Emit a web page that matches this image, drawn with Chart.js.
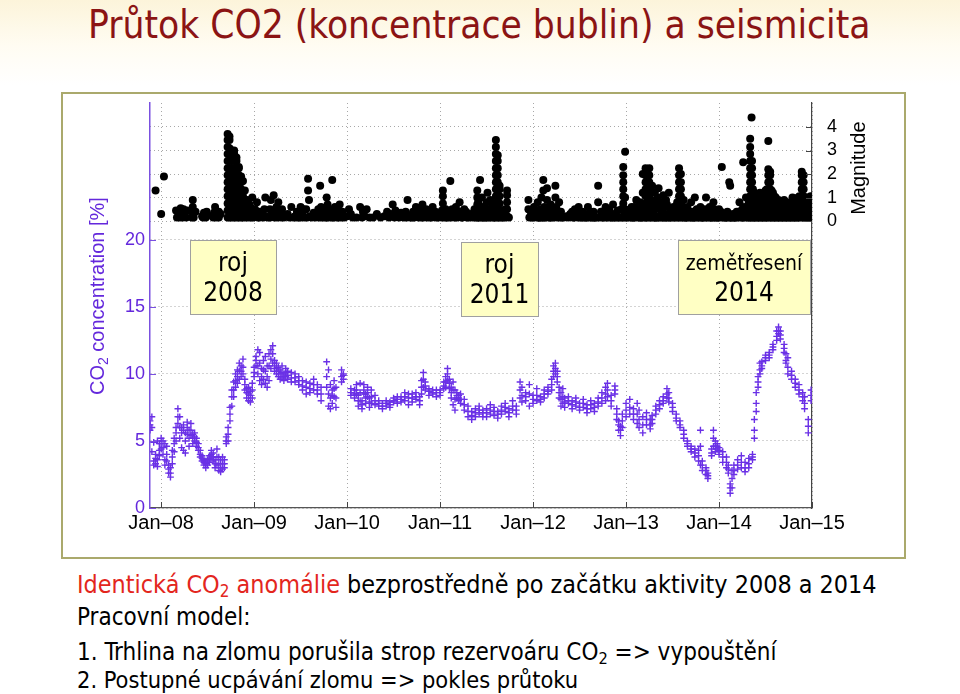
<!DOCTYPE html>
<html>
<head>
<meta charset="utf-8">
<script src="https://cdn.jsdelivr.net/npm/chart.js@4.4.0/dist/chart.umd.min.js"></script>
<style>
  body { margin: 0; width: 960px; height: 694px; overflow: hidden; position: relative;
         background: linear-gradient(#fcf4da 0px, #fffcf2 45px, #ffffff 85px);
         font-family: "DejaVu Sans Condensed", "DejaVu Sans", sans-serif; }
  #title { position: absolute; left: 88px; top: 3px; font-size: 38.5px; line-height: 44px; color: #8b1414; white-space: nowrap; }
  #panel { position: absolute; left: 61px; top: 92px; width: 841px; height: 463px; border: 2px solid #aaa96c; background: #fff; }
  .line { position: absolute; left: 77px; font-size: 24px; line-height: 28px; white-space: nowrap; color: #000; }
  .line sub { font-size: 0.68em; line-height: 0; vertical-align: -0.25em; }
  .red { color: #e3261d; }
</style>
</head>
<body>
<div id="title">Průtok CO2 (koncentrace bublin) a seismicita</div>
<div id="panel"><canvas id="chart" width="841" height="463"></canvas></div>
<div class="line" style="top:571px;font-size:24.9px"><span class="red">Identická CO<sub>2</sub> anomálie</span> bezprostředně po začátku aktivity 2008 a 2014</div>
<div class="line" style="top:603px">Pracovní model:</div>
<div class="line" style="top:638px">1. Trhlina na zlomu porušila strop rezervoáru CO<sub>2</sub> =&gt; vypouštění</div>
<div class="line" style="top:666px;font-size:23.4px">2. Postupné ucpávání zlomu =&gt; pokles průtoku</div>
<script>
// x ticks: January of each year
const yearTicks = [2008, 2009, 2010, 2011, 2012, 2013, 2014, 2015];
const co2Ticks = [0, 5, 10, 15, 20];
const magTicks = [0, 1, 2, 3, 4];

// CO2 concentration [%]: [decimal year, readings scattered around that date...]
const co2Samples = [
  [2007.88, 6.5, 5.8, 6.2], [2007.90, 6.8, 6.0, 4.2], [2007.92, 3.5, 3.2, 4.9], [2007.94, 3.3, 4.0, 3.7], [2007.96, 3.6, 3.1, 5.0],
  [2007.98, 4.8, 3.9, 4.3], [2008.00, 5.2, 4.4, 4.8], [2008.02, 5.0, 4.0, 4.5], [2008.04, 4.8, 3.6, 3.2], [2008.06, 3.5, 4.6, 4.0],
  [2008.08, 2.6, 3.2, 2.9], [2008.10, 2.3, 3.0, 2.6], [2008.12, 3.3, 4.3, 3.8], [2008.14, 4.8, 4.2, 5.2], [2008.16, 5.6, 5.0, 6.0],
  [2008.18, 7.4, 6.3, 6.8], [2008.20, 6.8, 5.2, 6.0], [2008.22, 6.0, 5.6, 4.5], [2008.24, 6.2, 4.3, 5.8], [2008.26, 5.0, 4.1, 5.6],
  [2008.28, 6.4, 5.5, 6.0], [2008.30, 5.8, 4.6, 5.2], [2008.32, 6.3, 5.4, 5.8], [2008.34, 5.5, 4.8, 5.2], [2008.36, 5.6, 5.0, 5.3],
  [2008.38, 5.2, 4.6, 4.9], [2008.40, 4.8, 4.3, 4.5], [2008.42, 4.3, 3.8, 4.0], [2008.44, 3.9, 3.5, 3.7], [2008.46, 3.6, 3.2, 3.4],
  [2008.48, 3.3, 3.0, 3.5], [2008.50, 3.2, 3.6, 3.4], [2008.52, 3.4, 3.9, 3.7], [2008.54, 3.8, 4.3, 4.0], [2008.56, 4.1, 3.5, 3.8],
  [2008.58, 3.6, 3.0, 3.3], [2008.60, 3.2, 4.4, 3.8], [2008.62, 3.8, 2.8, 3.3], [2008.64, 3.0, 2.7, 3.6], [2008.66, 3.3, 3.8, 2.9],
  [2008.68, 3.0, 3.3, 3.6], [2008.70, 4.8, 5.3, 5.0], [2008.72, 5.0, 6.0, 5.5], [2008.74, 6.5, 7.5, 7.0], [2008.76, 7.6, 8.3, 8.8],
  [2008.78, 8.3, 9.4, 8.8], [2008.80, 9.0, 9.5, 10.0], [2008.82, 9.8, 10.3, 9.3], [2008.84, 10.2, 9.6, 10.8], [2008.86, 10.6, 9.8, 10.2],
  [2008.88, 11.1, 10.0, 10.5], [2008.90, 9.6, 8.8, 9.2], [2008.92, 8.6, 8.2, 8.9], [2008.94, 9.0, 8.0, 8.5], [2008.96, 8.4, 7.9, 8.7],
  [2008.98, 8.8, 9.3, 8.2], [2009.00, 9.8, 10.5, 10.1], [2009.02, 11.3, 10.6, 11.0], [2009.04, 11.8, 10.0, 10.6], [2009.06, 11.6, 9.5, 10.8],
  [2009.08, 10.4, 9.2, 9.8], [2009.10, 11.0, 9.6, 10.3], [2009.12, 11.3, 9.3, 10.2], [2009.14, 10.6, 9.0, 9.8], [2009.16, 11.5, 9.5, 10.6],
  [2009.18, 11.8, 10.4, 11.1], [2009.20, 12.1, 10.8, 11.5], [2009.22, 11.0, 10.2, 10.6], [2009.24, 10.8, 10.0, 10.4], [2009.26, 10.5, 9.8, 10.2],
  [2009.28, 10.3, 9.6, 10.0], [2009.30, 10.6, 9.7, 10.1], [2009.32, 10.0, 9.5, 9.8], [2009.34, 9.8, 10.4, 10.1], [2009.36, 9.6, 10.2, 9.9],
  [2009.40, 9.7, 10.1, 9.4], [2009.44, 9.4, 10.0, 9.7], [2009.48, 9.2, 9.8, 9.5], [2009.52, 9.5, 8.8, 9.1], [2009.56, 9.0, 8.5, 9.4],
  [2009.60, 9.3, 8.6, 8.9], [2009.64, 8.8, 9.6, 9.2], [2009.68, 8.5, 9.2, 8.8], [2009.72, 9.0, 8.0, 8.5], [2009.78, 10.9, 9.0, 9.8],
  [2009.80, 10.3, 7.6, 8.5], [2009.82, 9.2, 7.4, 8.2], [2009.84, 8.8, 7.8, 8.4], [2009.86, 9.5, 8.3, 8.9], [2009.88, 9.0, 7.5, 8.2],
  [2009.94, 10.3, 9.8, 9.4], [2009.96, 9.9, 10.0, 9.6], [2010.04, 8.4, 8.6, 8.9], [2010.08, 8.8, 8.2, 8.5], [2010.10, 9.2, 8.5, 8.8],
  [2010.12, 8.4, 7.6, 8.0], [2010.14, 9.3, 8.0, 8.6], [2010.16, 8.0, 7.4, 7.7], [2010.18, 9.2, 8.5, 8.8], [2010.20, 8.5, 7.8, 8.2],
  [2010.22, 9.0, 8.3, 8.6], [2010.24, 8.2, 7.5, 7.9], [2010.26, 8.8, 7.8, 8.3], [2010.30, 8.4, 7.7, 8.0], [2010.34, 8.0, 7.6, 7.8],
  [2010.38, 7.8, 7.4, 7.6], [2010.42, 7.6, 8.0, 7.8], [2010.46, 7.5, 7.9, 7.7], [2010.50, 7.9, 8.2, 8.0], [2010.54, 8.1, 7.8, 8.3],
  [2010.58, 8.3, 7.9, 8.1], [2010.62, 8.0, 8.6, 8.3], [2010.66, 8.2, 7.7, 8.5], [2010.70, 8.5, 7.9, 8.2], [2010.74, 8.1, 8.6, 8.3],
  [2010.78, 8.3, 7.7, 8.0], [2010.80, 9.5, 8.5, 9.0], [2010.82, 10.1, 9.0, 9.6], [2010.84, 9.4, 8.8, 9.1], [2010.88, 8.7, 8.4, 8.9],
  [2010.92, 8.5, 8.8, 8.6], [2010.96, 8.6, 8.3, 8.8], [2011.00, 8.8, 8.4, 8.6], [2011.04, 9.4, 8.9, 9.1], [2011.06, 9.8, 9.0, 9.4],
  [2011.08, 10.4, 9.5, 10.0], [2011.10, 9.6, 8.9, 9.3], [2011.12, 9.0, 8.2, 8.6], [2011.14, 9.4, 7.7, 8.8], [2011.16, 8.8, 7.3, 8.1],
  [2011.18, 8.2, 8.6, 8.4], [2011.20, 8.4, 8.0, 8.2], [2011.22, 8.5, 8.1, 7.8], [2011.26, 7.3, 8.1, 7.7], [2011.30, 6.8, 7.6, 7.2],
  [2011.34, 7.2, 6.6, 6.9], [2011.38, 7.4, 6.8, 7.1], [2011.42, 7.0, 7.6, 7.3], [2011.46, 7.3, 6.8, 7.1], [2011.50, 7.4, 6.8, 7.1],
  [2011.54, 7.0, 7.7, 7.3], [2011.58, 7.5, 6.9, 7.2], [2011.62, 7.2, 6.7, 7.0], [2011.66, 7.6, 7.0, 7.3], [2011.70, 7.8, 7.2, 7.5],
  [2011.74, 7.4, 6.8, 7.1], [2011.78, 8.0, 7.3, 7.6], [2011.82, 7.6, 7.0, 7.3], [2011.86, 9.4, 8.2, 8.8], [2011.88, 9.0, 7.9, 8.4],
  [2011.92, 8.6, 8.0, 8.3], [2011.96, 9.2, 7.6, 8.5], [2012.00, 8.4, 7.8, 8.1], [2012.04, 8.9, 8.0, 8.4], [2012.08, 8.3, 7.9, 8.1],
  [2012.12, 8.8, 8.2, 8.5], [2012.16, 8.5, 9.0, 8.7], [2012.20, 9.6, 8.8, 9.2], [2012.22, 10.6, 9.8, 10.2], [2012.24, 10.8, 10.0, 10.4],
  [2012.26, 10.2, 9.4, 9.8], [2012.28, 9.0, 8.2, 8.6], [2012.30, 8.6, 7.6, 8.1], [2012.32, 8.9, 7.8, 8.3], [2012.34, 8.2, 7.5, 7.9],
  [2012.38, 8.3, 7.8, 8.0], [2012.42, 8.0, 7.4, 7.7], [2012.46, 8.2, 7.6, 7.9], [2012.50, 7.8, 7.3, 7.5], [2012.54, 8.1, 7.5, 7.8],
  [2012.58, 7.7, 7.1, 7.4], [2012.62, 8.0, 7.4, 7.7], [2012.66, 7.8, 7.2, 7.5], [2012.70, 8.2, 7.6, 7.9], [2012.74, 8.6, 7.8, 8.2],
  [2012.78, 9.0, 8.0, 8.5], [2012.80, 9.3, 8.3, 8.8], [2012.84, 8.4, 7.6, 8.0], [2012.88, 9.1, 8.5, 8.8], [2012.90, 7.4, 6.6, 7.0],
  [2012.92, 6.5, 5.8, 6.2], [2012.94, 6.1, 5.4, 5.8], [2012.96, 7.0, 6.0, 6.5], [2013.00, 7.8, 6.8, 7.3], [2013.04, 8.1, 7.0, 7.5],
  [2013.08, 7.4, 6.6, 7.0], [2013.12, 7.8, 6.3, 7.0], [2013.14, 7.3, 6.0, 6.6], [2013.18, 6.8, 5.6, 6.2], [2013.22, 7.1, 6.2, 6.6],
  [2013.26, 6.6, 5.9, 6.2], [2013.28, 6.9, 6.3, 6.6], [2013.32, 7.6, 7.0, 7.3], [2013.36, 8.0, 7.4, 7.7], [2013.40, 8.3, 7.8, 8.0],
  [2013.44, 8.9, 8.2, 8.5], [2013.46, 8.6, 7.9, 8.2], [2013.50, 7.8, 7.2, 7.5], [2013.54, 7.0, 6.5, 6.7], [2013.58, 6.5, 6.0, 6.2],
  [2013.62, 5.8, 5.2, 5.5], [2013.66, 5.0, 4.6, 4.8], [2013.70, 4.6, 4.2, 4.4], [2013.74, 4.4, 3.8, 4.1], [2013.78, 4.3, 3.5, 3.9],
  [2013.80, 5.8, 3.2, 4.6], [2013.82, 3.5, 2.8, 3.2], [2013.86, 3.0, 2.5, 2.8], [2013.88, 2.6, 2.2, 2.4], [2013.92, 4.4, 3.9, 4.1],
  [2013.94, 5.8, 4.6, 5.2], [2013.96, 5.0, 4.2, 4.6], [2013.98, 4.8, 4.4, 4.6], [2014.00, 4.5, 4.0, 4.3], [2014.04, 4.2, 3.4, 3.8],
  [2014.08, 3.8, 3.0, 3.4], [2014.10, 3.2, 2.6, 2.9], [2014.12, 1.8, 1.1, 1.5], [2014.14, 2.8, 1.5, 2.2], [2014.16, 3.2, 2.5, 2.8],
  [2014.20, 3.6, 2.9, 3.2], [2014.24, 3.0, 3.9, 3.4], [2014.28, 3.4, 2.7, 3.0], [2014.32, 3.7, 3.0, 3.3], [2014.36, 4.0, 3.6, 3.8],
  [2014.38, 5.8, 6.6, 5.2], [2014.40, 7.8, 8.6, 7.2], [2014.42, 9.4, 9.8, 9.0], [2014.44, 10.3, 10.8, 10.0], [2014.46, 10.9, 10.4, 10.6],
  [2014.50, 11.4, 11.0, 11.2], [2014.54, 11.6, 11.2, 11.4], [2014.58, 11.8, 12.2, 12.0], [2014.62, 12.8, 13.2, 12.5], [2014.64, 13.5, 13.0, 13.2],
  [2014.66, 13.2, 12.6, 12.9], [2014.70, 12.2, 11.6, 11.9], [2014.72, 11.0, 11.5, 10.8], [2014.74, 10.5, 11.2, 10.0], [2014.78, 10.2, 9.6, 9.9],
  [2014.82, 9.6, 9.0, 9.3], [2014.86, 9.2, 8.5, 8.8], [2014.90, 8.6, 8.0, 8.3], [2014.92, 7.8, 8.3, 7.4], [2014.96, 6.6, 5.6, 6.1],
  [2014.99, 8.8, 8.0, 8.4]
];

// larger earthquakes and swarm columns: [decimal year, magnitudes recorded around that date...]
const quakeDays = [
  [2007.94, 1.3], [2008.00, 0.3], [2008.03, 1.9],
  [2008.16, 0.45], [2008.19, 0.3], [2008.21, 0.55], [2008.23, 0.15], [2008.25, 0.35], [2008.27, 0.15], [2008.28, 0.45],
  [2008.34, 0.9, 0.6, 0.35], [2008.35, 0.15], [2008.44, 0.2], [2008.46, 0.35], [2008.48, 0.15], [2008.50, 0.25],
  [2008.56, 0.15], [2008.58, 0.6, 0.4], [2008.60, 0.2],
  [2008.715, 0.15, 0.45, 0.75, 1.05, 1.35, 1.65, 1.95, 2.25, 2.55, 2.85, 3.15, 3.45, 3.7],
  [2008.735, 0.15, 0.45, 0.75, 1.05, 1.35, 1.65, 1.95, 2.25, 2.55, 2.85, 3.1, 3.45, 3.6],
  [2008.76, 0.15, 0.45, 0.75, 1.05, 1.35, 1.65, 1.95, 2.25, 2.55, 2.85, 3.0],
  [2008.785, 0.15, 0.45, 0.75, 1.05, 1.35, 1.65, 1.95, 2.25, 2.55, 2.85, 3.0],
  [2008.81, 0.15, 0.45, 0.75, 1.05, 1.35, 1.65, 1.95, 2.25, 2.55, 2.7],
  [2008.835, 0.15, 0.45, 0.75, 1.05, 1.35, 1.65, 1.95, 2.25, 2.3],
  [2008.86, 0.15, 0.45, 0.75, 1.05, 1.35, 1.65, 1.9],
  [2008.88, 0.15, 0.45, 0.75, 1.05, 1.7], [2008.90, 1.3, 0.4],
  [2008.93, 0.9, 0.5], [2008.94, 0.15], [2008.95, 0.7], [2008.96, 0.3], [2008.98, 1.0], [2008.99, 0.15],
  [2009.01, 0.5], [2009.02, 0.2], [2009.03, 0.8], [2009.04, 0.15], [2009.11, 0.5], [2009.12, 1.0], [2009.13, 0.2],
  [2009.15, 0.15], [2009.18, 0.9], [2009.20, 0.4], [2009.21, 1.1], [2009.22, 0.15], [2009.24, 0.6], [2009.26, 0.8],
  [2009.27, 0.25], [2009.29, 0.15], [2009.30, 0.5], [2009.36, 0.3], [2009.40, 0.6], [2009.42, 0.15],
  [2009.46, 0.4], [2009.48, 0.15], [2009.50, 0.6], [2009.52, 0.3], [2009.54, 0.15], [2009.56, 0.5],
  [2009.58, 1.8, 1.3], [2009.59, 0.9], [2009.60, 0.2], [2009.68, 0.3], [2009.70, 0.15], [2009.71, 1.5],
  [2009.72, 0.6], [2009.74, 0.2], [2009.76, 0.15], [2009.77, 0.45], [2009.78, 1.0], [2009.79, 0.7], [2009.80, 0.15],
  [2009.82, 0.5], [2009.83, 0.3], [2009.84, 1.75], [2009.85, 0.15], [2009.87, 0.6], [2009.88, 0.25], [2009.90, 0.45],
  [2009.91, 0.15], [2009.92, 0.7], [2009.93, 0.3], [2009.94, 0.15], [2010.02, 0.5], [2010.04, 0.3],
  [2010.14, 0.6], [2010.17, 0.4], [2010.21, 0.5], [2010.28, 0.15], [2010.43, 0.4], [2010.49, 0.7], [2010.54, 0.2],
  [2010.56, 0.15], [2010.58, 0.35], [2010.61, 0.15], [2010.63, 0.4], [2010.65, 0.9], [2010.66, 0.25], [2010.68, 0.15],
  [2010.71, 0.4], [2010.72, 0.15], [2010.74, 0.6], [2010.76, 0.2], [2010.78, 0.45], [2010.80, 0.15], [2010.81, 0.7],
  [2010.83, 0.3], [2010.85, 0.5], [2010.86, 0.15], [2010.88, 0.2], [2010.90, 0.4], [2010.92, 0.6], [2010.94, 0.2],
  [2010.96, 0.15], [2011.02, 0.15, 0.45], [2011.03, 0.75, 1.05, 1.3], [2011.04, 0.3], [2011.06, 0.5], [2011.07, 0.15],
  [2011.11, 1.7], [2011.14, 0.3], [2011.16, 0.15], [2011.17, 0.6], [2011.19, 0.2], [2011.21, 0.8], [2011.22, 0.4],
  [2011.24, 0.15], [2011.26, 0.5], [2011.27, 0.2], [2011.29, 0.15], [2011.40, 1.3, 1.0, 0.7, 0.4, 0.15],
  [2011.42, 0.5], [2011.43, 1.75], [2011.44, 0.2], [2011.45, 1.0], [2011.46, 0.6], [2011.47, 0.15], [2011.49, 0.3],
  [2011.50, 0.8], [2011.51, 1.2], [2011.52, 0.15], [2011.53, 0.5], [2011.54, 0.9], [2011.55, 0.2], [2011.56, 0.6],
  [2011.60, 0.15, 0.45, 0.75, 1.05, 1.35, 1.65, 1.95, 2.25, 2.55, 2.85, 3.15, 3.45],
  [2011.62, 0.15, 0.45, 0.75, 1.05, 1.35, 1.65, 1.95, 2.25, 2.55, 2.8],
  [2011.64, 0.15, 0.45, 0.75, 1.05, 1.35, 1.5], [2011.72, 0.2, 0.5, 0.8, 1.1, 1.3],
  [2011.95, 0.9, 0.5], [2011.96, 0.15], [2011.98, 0.3], [2012.00, 0.15], [2012.01, 0.6], [2012.03, 0.2], [2012.05, 0.8],
  [2012.06, 0.4], [2012.07, 0.15], [2012.09, 1.0], [2012.10, 0.3], [2012.11, 1.75, 1.3], [2012.12, 0.6], [2012.13, 0.15],
  [2012.15, 1.4, 0.9], [2012.16, 0.4], [2012.18, 0.15], [2012.19, 0.7], [2012.21, 0.3], [2012.22, 0.15],
  [2012.24, 1.5, 1.0], [2012.25, 0.6], [2012.27, 0.2], [2012.28, 0.8], [2012.30, 0.4], [2012.31, 0.15],
  [2012.40, 0.3], [2012.43, 0.15], [2012.45, 0.5], [2012.47, 0.2], [2012.49, 0.6], [2012.51, 0.15], [2012.53, 0.4],
  [2012.55, 0.15], [2012.57, 0.3], [2012.59, 0.6], [2012.61, 0.2], [2012.63, 0.15], [2012.65, 0.4], [2012.67, 0.15],
  [2012.70, 1.5, 0.8], [2012.74, 0.4], [2012.76, 0.15], [2012.78, 0.6], [2012.80, 0.2], [2012.82, 0.5], [2012.84, 0.15],
  [2012.86, 0.7], [2012.88, 0.3], [2012.89, 0.15],
  [2012.97, 0.15, 0.45, 0.75, 1.05, 1.35, 1.65, 1.95, 2.3], [2012.99, 2.95, 1.0, 0.5, 0.15],
  [2013.05, 0.3], [2013.07, 0.15], [2013.09, 0.6], [2013.11, 0.9], [2013.12, 0.2], [2013.14, 0.5], [2013.16, 0.15],
  [2013.18, 2.0, 1.2], [2013.19, 0.7],
  [2013.21, 0.15, 0.45, 0.75, 1.05, 1.35, 1.65, 1.95, 2.25], [2013.25, 0.15, 0.45, 0.75, 1.05, 1.35, 1.65, 1.95, 2.25],
  [2013.28, 1.5], [2013.29, 0.8], [2013.30, 0.3], [2013.31, 1.2], [2013.32, 0.15], [2013.33, 0.6], [2013.34, 1.0],
  [2013.35, 1.4], [2013.36, 0.2], [2013.37, 0.8], [2013.38, 0.4], [2013.40, 1.1], [2013.41, 0.15], [2013.42, 0.6],
  [2013.43, 0.9], [2013.44, 0.3], [2013.46, 1.2], [2013.47, 0.15], [2013.48, 0.5],
  [2013.57, 0.15, 0.45, 0.75, 1.05, 1.35, 1.65, 1.95, 2.25], [2013.59, 0.15, 0.45, 0.75, 1.05, 1.35, 1.65, 2.0],
  [2013.62, 0.9, 0.4], [2013.64, 0.15], [2013.66, 0.6], [2013.68, 0.2], [2013.70, 0.8], [2013.72, 0.15], [2013.74, 1.0],
  [2013.76, 0.5], [2013.78, 0.3], [2013.80, 0.6], [2013.82, 0.15], [2013.84, 0.4], [2013.86, 1.0], [2013.88, 0.2],
  [2013.90, 0.6], [2013.92, 0.15], [2013.94, 0.8], [2013.96, 0.3], [2013.98, 0.15], [2014.00, 0.5],
  [2014.03, 2.3], [2014.05, 0.2], [2014.07, 0.15], [2014.09, 0.4], [2014.11, 1.65], [2014.12, 1.5], [2014.13, 0.15],
  [2014.15, 0.3], [2014.17, 0.15], [2014.19, 0.4], [2014.22, 0.8], [2014.24, 0.3], [2014.26, 2.5, 0.15], [2014.27, 0.6],
  [2014.29, 1.0], [2014.30, 0.2],
  [2014.335, 0.15, 0.45, 0.75, 1.05, 1.35, 1.65, 1.95, 2.25, 2.55, 2.85, 3.15, 3.5], [2014.35, 4.4],
  [2014.355, 0.15, 0.45, 0.75, 1.05, 1.35, 1.65, 1.95, 2.25, 2.55],
  [2014.38, 0.15, 0.45, 0.75, 1.05, 1.2], [2014.41, 0.15, 0.45, 0.75, 1.05], [2014.44, 0.15, 0.45, 0.75, 1.2],
  [2014.47, 0.15, 0.45, 0.75, 0.95], [2014.50, 0.15, 0.45, 0.75, 1.05, 1.3],
  [2014.53, 0.15, 0.45, 0.75, 1.05, 1.35, 1.65, 1.95, 2.2, 3.4], [2014.55, 0.15, 0.45, 0.75, 1.05, 1.35, 1.65, 1.95, 2.1],
  [2014.58, 0.15, 0.45, 0.75, 1.05, 1.2], [2014.61, 0.15, 0.45, 0.75, 1.0], [2014.64, 0.15, 0.45, 0.75, 0.9],
  [2014.67, 0.15, 0.45, 0.8], [2014.70, 0.15, 0.45, 0.75, 0.9], [2014.73, 0.15, 0.45, 0.8], [2014.76, 0.15, 0.45, 0.6],
  [2014.79, 0.15, 0.45, 0.8, 1.0], [2014.82, 0.15, 0.45, 0.6], [2014.85, 0.15, 0.45, 0.8, 1.0],
  [2014.89, 0.15, 0.45, 0.75, 1.05, 1.35, 1.65, 1.95, 2.1], [2014.91, 0.15, 0.45, 0.75, 1.05, 1.35, 1.65, 1.95],
  [2014.94, 0.15, 0.45, 0.6], [2014.97, 0.15, 0.45, 0.8]
];

// many small events filling the band near magnitude 0-1
const quakeSmall = [
  [2008.17, 0.15], [2008.20, 0.15], [2008.24, 0.5], [2008.33, 0.15], [2008.37, 0.4], [2008.45, 0.15], [2008.49, 0.4],
  [2008.57, 0.35], [2008.59, 0.15], [2008.62, 0.15, 0.4], [2008.64, 0.3],
  [2008.91, 0.15, 0.5], [2008.97, 0.15, 0.55], [2009.00, 0.3], [2009.06, 0.15, 0.4], [2009.08, 0.2], [2009.10, 0.15],
  [2009.17, 0.15, 0.5], [2009.19, 0.2], [2009.23, 0.3], [2009.25, 0.15], [2009.28, 0.4], [2009.32, 0.15], [2009.34, 0.2],
  [2009.38, 0.15], [2009.44, 0.2], [2009.45, 0.15], [2009.50, 0.15], [2009.53, 0.5], [2009.57, 0.15], [2009.62, 0.15],
  [2009.64, 0.35], [2009.66, 0.15], [2009.69, 0.5], [2009.73, 0.15, 0.4], [2009.75, 0.55], [2009.78, 0.15], [2009.81, 0.3],
  [2009.84, 0.15], [2009.86, 0.35], [2009.89, 0.15], [2009.95, 0.4], [2009.97, 0.15], [2010.00, 0.2], [2010.06, 0.15],
  [2010.10, 0.15], [2010.16, 0.15], [2010.19, 0.2], [2010.24, 0.15], [2010.32, 0.3], [2010.36, 0.15], [2010.40, 0.2],
  [2010.45, 0.15], [2010.47, 0.3], [2010.51, 0.15], [2010.52, 0.45], [2010.60, 0.3], [2010.64, 0.15], [2010.70, 0.15],
  [2010.73, 0.35], [2010.77, 0.15], [2010.79, 0.3], [2010.82, 0.15], [2010.84, 0.45], [2010.87, 0.35], [2010.89, 0.15],
  [2010.91, 0.15], [2010.93, 0.35], [2010.95, 0.4], [2010.98, 0.15], [2011.00, 0.3], [2011.05, 0.15], [2011.08, 0.3],
  [2011.09, 0.15], [2011.12, 0.15], [2011.13, 0.5], [2011.18, 0.15], [2011.20, 0.4], [2011.23, 0.15], [2011.25, 0.3],
  [2011.28, 0.4], [2011.31, 0.15], [2011.33, 0.3], [2011.35, 0.15], [2011.37, 0.5], [2011.38, 0.15],
  [2011.41, 0.15, 0.8], [2011.43, 0.15, 0.4], [2011.45, 0.15], [2011.48, 0.15, 0.6], [2011.50, 0.15, 0.5], [2011.52, 0.45],
  [2011.54, 0.15], [2011.57, 0.15, 0.4], [2011.58, 0.15, 0.7], [2011.66, 0.15, 0.4], [2011.68, 0.15], [2011.70, 0.15, 0.5],
  [2011.74, 0.15], [2011.97, 0.45], [2011.99, 0.15], [2012.02, 0.4], [2012.04, 0.15], [2012.06, 0.15], [2012.08, 0.15, 0.5],
  [2012.10, 0.15], [2012.12, 0.15], [2012.14, 0.4], [2012.17, 0.15], [2012.20, 0.15, 0.5], [2012.23, 0.4], [2012.26, 0.15],
  [2012.29, 0.15], [2012.33, 0.15], [2012.36, 0.2], [2012.38, 0.15], [2012.42, 0.4], [2012.44, 0.15], [2012.48, 0.15],
  [2012.50, 0.4], [2012.52, 0.15], [2012.56, 0.15], [2012.58, 0.15], [2012.60, 0.15], [2012.62, 0.4], [2012.64, 0.15],
  [2012.66, 0.15], [2012.69, 0.15], [2012.72, 0.15], [2012.73, 0.4], [2012.75, 0.15], [2012.77, 0.3], [2012.79, 0.15],
  [2012.81, 0.15], [2012.83, 0.35], [2012.85, 0.15], [2012.87, 0.15], [2012.91, 0.15, 0.45], [2012.93, 0.15],
  [2012.95, 0.15, 0.5], [2013.01, 0.15, 0.45], [2013.03, 0.15], [2013.06, 0.15, 0.6], [2013.08, 0.15], [2013.10, 0.15, 0.4],
  [2013.13, 0.15], [2013.15, 0.15, 0.8], [2013.17, 0.15, 0.4], [2013.20, 0.15, 0.5], [2013.23, 0.15, 0.45, 0.75, 1.1],
  [2013.27, 0.15, 0.5, 0.9], [2013.29, 0.15], [2013.31, 0.15, 0.5], [2013.33, 0.15], [2013.35, 0.15, 0.7], [2013.37, 0.15],
  [2013.39, 0.15, 0.5], [2013.42, 0.15], [2013.44, 0.15, 0.7], [2013.46, 0.15], [2013.49, 0.15, 0.3], [2013.51, 0.15, 0.6],
  [2013.53, 0.15, 0.4], [2013.55, 0.15, 0.5, 0.8], [2013.61, 0.15, 0.6], [2013.63, 0.15, 0.4], [2013.65, 0.15],
  [2013.67, 0.15, 0.4], [2013.69, 0.15], [2013.71, 0.15, 0.4], [2013.73, 0.15], [2013.75, 0.15], [2013.77, 0.15],
  [2013.79, 0.15], [2013.81, 0.15, 0.4], [2013.83, 0.15], [2013.85, 0.15, 0.5], [2013.87, 0.15], [2013.89, 0.15],
  [2013.91, 0.15, 0.4], [2013.93, 0.15], [2013.95, 0.15, 0.5], [2013.97, 0.15], [2013.99, 0.15, 0.3], [2014.01, 0.15],
  [2014.02, 0.4], [2014.04, 0.15], [2014.06, 0.15], [2014.08, 0.15], [2014.10, 0.15], [2014.12, 0.15], [2014.14, 0.15],
  [2014.16, 0.15], [2014.18, 0.15], [2014.20, 0.15], [2014.21, 0.4], [2014.23, 0.15], [2014.25, 0.15, 0.5],
  [2014.28, 0.15, 0.3], [2014.31, 0.15, 0.5], [2014.32, 0.15, 0.45, 0.8],
  [2014.365, 0.15, 0.45, 0.75, 1.05, 1.35], [2014.395, 0.15, 0.45, 0.75, 1.05], [2014.425, 0.15, 0.45, 0.75, 1.05],
  [2014.455, 0.15, 0.45, 0.75, 1.05], [2014.485, 0.15, 0.45, 0.75, 1.05], [2014.515, 0.15, 0.45, 0.75, 1.05, 1.35],
  [2014.565, 0.15, 0.45, 0.75, 1.05, 1.3], [2014.595, 0.15, 0.45, 0.75, 1.05], [2014.625, 0.15, 0.45, 0.75],
  [2014.655, 0.15, 0.45, 0.75], [2014.685, 0.15, 0.45, 0.75], [2014.715, 0.15, 0.45, 0.75], [2014.745, 0.15, 0.45, 0.75],
  [2014.775, 0.15, 0.45, 0.75], [2014.805, 0.15, 0.45, 0.75], [2014.835, 0.15, 0.45, 0.75], [2014.865, 0.15, 0.45, 0.75, 1.05],
  [2014.925, 0.15, 0.45, 0.75], [2014.955, 0.15, 0.45, 0.75, 1.0], [2014.985, 0.15, 0.45, 0.75, 1.05]
];

// yellow text boxes, placed in data units (years, CO2 %)
const callouts = [
  { lines: ["roj", "2008"], sizes: [26, 26], from: 2008.31, to: 2009.24, top: 20.0, bottom: 14.5 },
  { lines: ["roj", "2011"], sizes: [26, 26], from: 2011.23, to: 2012.05, top: 19.8, bottom: 14.3 },
  { lines: ["zemětřesení", "2014"], sizes: [21, 26], from: 2013.56, to: 2014.98, top: 20.0, bottom: 14.5 }
];

const PURPLE = "#6a30e6";
const AXIS_PURPLE = "#6428dc";
const SANS = '"Liberation Sans", Arial, sans-serif';
const HAND = '"DejaVu Sans Condensed", "DejaVu Sans", sans-serif';

const co2Points = [];
co2Samples.forEach(([t, ...vals]) => vals.forEach(v => co2Points.push({ x: t, y: v })));
const quakePoints = [];
quakeDays.concat(quakeSmall).forEach(([t, ...mags]) => mags.forEach(m => quakePoints.push({ x: t, y: m })));

const overlay = {
  id: "overlay",
  afterDatasetsDraw(chart) {
    const { ctx, chartArea: area, scales: { x, y, y2 } } = chart;
    ctx.save();

    // short inward tick marks, as in the original axes
    ctx.lineWidth = 1;
    ctx.strokeStyle = "#444";
    ctx.beginPath();
    x.ticks.forEach(t => {
      const px = Math.round(x.getPixelForValue(t.value)) + 0.5;
      ctx.moveTo(px, area.bottom); ctx.lineTo(px, area.bottom - 6);
    });
    y2.ticks.forEach(t => {
      const py = Math.round(y2.getPixelForValue(t.value)) + 0.5;
      ctx.moveTo(area.right, py); ctx.lineTo(area.right - 6, py);
    });
    ctx.stroke();
    ctx.strokeStyle = "#7a50e0";
    ctx.beginPath();
    y.ticks.forEach(t => {
      const py = Math.round(y.getPixelForValue(t.value)) + 0.5;
      ctx.moveTo(area.left, py); ctx.lineTo(area.left + 6, py);
    });
    ctx.stroke();

    callouts.forEach(c => {
      const l = Math.round(x.getPixelForValue(c.from)), r = Math.round(x.getPixelForValue(c.to));
      const t = Math.round(y.getPixelForValue(c.top)), b = Math.round(y.getPixelForValue(c.bottom));
      ctx.fillStyle = "#ffffc4";
      ctx.fillRect(l, t, r - l, b - t);
      ctx.strokeStyle = "#a0a0a0";
      ctx.lineWidth = 1;
      ctx.strokeRect(l + 0.5, t + 0.5, r - l, b - t);
      ctx.fillStyle = "#000";
      ctx.textAlign = "center";
      ctx.textBaseline = "middle";
      c.lines.forEach((s, i) => {
        ctx.font = c.sizes[i] + "px " + HAND;
        ctx.fillText(s, (l + r) / 2, t + (b - t) * (i ? 0.73 : 0.33));
      });
    });

    // right axis title, reading upwards
    ctx.save();
    ctx.translate(y2.left + 47, y2.getPixelForValue(2.25));
    ctx.rotate(-Math.PI / 2);
    ctx.font = "20px " + SANS;
    ctx.fillStyle = "#000";
    ctx.textAlign = "center";
    ctx.textBaseline = "middle";
    ctx.fillText("Magnitude", 0, 0);
    ctx.restore();

    // left axis title with subscript
    ctx.save();
    ctx.translate(35, y.getPixelForValue(15.8));
    ctx.rotate(-Math.PI / 2);
    ctx.fillStyle = AXIS_PURPLE;
    ctx.textBaseline = "middle";
    ctx.textAlign = "left";
    const big = "20px " + SANS, small = "14px " + SANS;
    ctx.font = big; const w1 = ctx.measureText("CO").width, w3 = ctx.measureText(" concentration [%]").width;
    ctx.font = small; const w2 = ctx.measureText("2").width;
    let px = -(w1 + w2 + w3) / 2;
    ctx.font = big; ctx.fillText("CO", px, 0); px += w1;
    ctx.font = small; ctx.fillText("2", px, 6); px += w2;
    ctx.font = big; ctx.fillText(" concentration [%]", px, 0);
    ctx.restore();
    ctx.restore();
  }
};

new Chart(document.getElementById("chart"), {
  type: "scatter",
  data: {
    datasets: [
      {
        label: "Magnitude",
        data: quakePoints,
        yAxisID: "y2",
        pointStyle: "circle",
        pointRadius: 4,
        backgroundColor: "#000",
        borderWidth: 0
      },
      {
        label: "CO2",
        data: co2Points,
        yAxisID: "y",
        pointStyle: "cross",
        pointRadius: 3.4,
        borderColor: PURPLE,
        borderWidth: 1.4
      }
    ]
  },
  options: {
    responsive: false,
    animation: false,
    layout: { padding: { top: 9, left: 0, right: 0, bottom: 0 } },
    plugins: { legend: { display: false }, tooltip: { enabled: false } },
    scales: {
      x: {
        type: "linear",
        min: 2007.88,
        max: 2015,
        afterBuildTicks: s => { s.ticks = yearTicks.map(v => ({ value: v })); },
        afterFit: s => { s.height = 49; s.paddingLeft = 0; s.paddingRight = 0; },
        ticks: {
          callback: v => "Jan–" + String(v).slice(2),
          font: { family: SANS, size: 20 },
          color: "#000",
          padding: 3,
          maxRotation: 0,
          autoSkip: false
        },
        grid: { color: "#a8a8a8", drawTicks: false },
        border: { color: "#555", width: 1.2, dash: [1, 3] }
      },
      y: {
        position: "left",
        min: 0,
        max: 30.2,
        afterBuildTicks: s => { s.ticks = co2Ticks.map(v => ({ value: v })); },
        afterFit: s => { s.width = 87; s.paddingTop = 0; s.paddingBottom = 0; },
        ticks: { font: { family: SANS, size: 18 }, color: AXIS_PURPLE, padding: 5 },
        grid: { color: "#a8a8a8", drawTicks: false },
        border: { color: "#7a50e0", width: 1.5, dash: [1, 3] }
      },
      y2: {
        position: "right",
        min: -12.2,
        max: 5.02,
        afterBuildTicks: s => { s.ticks = magTicks.map(v => ({ value: v })); },
        afterFit: s => { s.width = 92; s.paddingTop = 0; s.paddingBottom = 0; },
        ticks: { font: { family: SANS, size: 18 }, color: "#000", padding: 15 },
        grid: { color: "#a8a8a8", drawTicks: false },
        border: { color: "#444", width: 1.2, dash: [1, 3] }
      }
    }
  },
  plugins: [overlay]
});
</script>
</body>
</html>
